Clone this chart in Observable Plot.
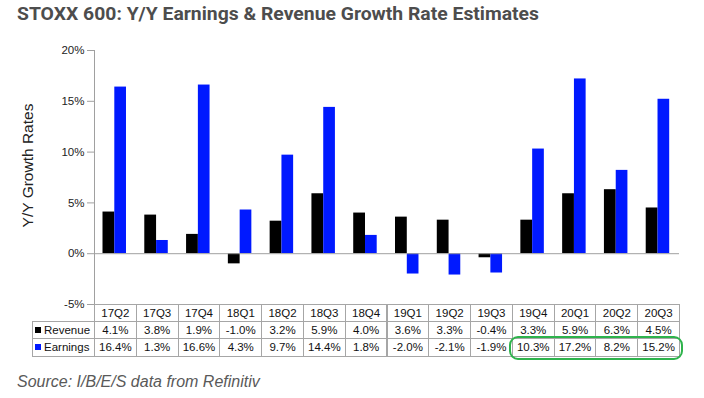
<!DOCTYPE html>
<html>
<head>
<meta charset="utf-8">
<script src="https://cdn.jsdelivr.net/npm/d3@7"></script>
<script src="https://cdn.jsdelivr.net/npm/@observablehq/plot@0.6"></script>
<style>
  html, body { margin: 0; padding: 0; background: #fff; }
  #wrap { position: relative; width: 704px; height: 398px; overflow: hidden; font-family: Arial, "Liberation Sans", sans-serif; }
  #title { position: absolute; left: 17px; top: 4px; font-family: Roboto, "Liberation Sans", sans-serif; font-weight: 700; font-size: 19px; line-height: 19px; color: #4d4d4d; white-space: nowrap; transform-origin: 0 0; }
  #source { position: absolute; left: 17px; top: 373px; font-family: Arial, "Liberation Sans", sans-serif; font-style: italic; font-size: 16px; line-height: 18px; color: #595959; white-space: nowrap; }
  #chart { position: absolute; left: 0; top: 0; }
  .cell { position: absolute; box-sizing: border-box; border: 1px solid #a6a6a6; font-size: 11.5px; color: #111; text-align: center; white-space: nowrap; display: flex; align-items: center; justify-content: center; background: transparent; }
  .lab { justify-content: flex-start; padding-left: 2px; }
  .sq { display: inline-block; width: 6px; height: 6px; margin-right: 3px; }
  #hl { position: absolute; box-sizing: border-box; border: 2.5px solid #2eb34c; border-radius: 9px; }
</style>
</head>
<body>
<div id="wrap">
  <div id="chart"></div>
  <div id="title">STOXX 600: Y/Y Earnings &amp; Revenue Growth Rate Estimates</div>
  <div id="source">Source: I/B/E/S data from Refinitiv</div>
</div>
<script>
const quarters = ["17Q2","17Q3","17Q4","18Q1","18Q2","18Q3","18Q4","19Q1","19Q2","19Q3","19Q4","20Q1","20Q2","20Q3"];
const revenue  = [4.1, 3.8, 1.9, -1.0, 3.2, 5.9, 4.0, 3.6, 3.3, -0.4, 3.3, 5.9, 6.3, 4.5];
const earnings = [16.4, 1.3, 16.6, 4.3, 9.7, 14.4, 1.8, -2.0, -2.1, -1.9, 10.3, 17.2, 8.2, 15.2];
const yTicks = [-5, 0, 5, 10, 15, 20];
const seriesNames = ["Revenue", "Earnings"];
const seriesColors = ["#000000", "#0019ff"];
const highlighted = ["19Q4", "20Q1", "20Q2", "20Q3"];
const yLabel = "Y/Y Growth Rates";

const rows = quarters.map((q, i) => ({q, revenue: revenue[i], earnings: earnings[i]}));
const fmt = v => v.toFixed(1) + "%";

const plot = Plot.plot({
  width: 704,
  height: 398,
  marginTop: 50,
  marginBottom: 94,
  marginLeft: 94,
  marginRight: 25,
  style: {fontFamily: "Arial, 'Liberation Sans', sans-serif", background: "transparent"},
  x: {domain: quarters, padding: 0, round: false, axis: null},
  y: {domain: [-5, 20], axis: null},
  marks: [
    Plot.axisY({ticks: yTicks, tickFormat: d => d + "%", tickSize: 7, tickPadding: 3, fontSize: 11.5, stroke: "#a0a0a0", fill: "#222", label: null}),
    Plot.frame({anchor: "left", stroke: "#a0a0a0"}),
    Plot.barY(rows, {x: "q", y: "revenue", fill: seriesColors[0], insetLeft: 8.5, insetRight: 21.5}),
    Plot.barY(rows, {x: "q", y: "earnings", fill: seriesColors[1], insetLeft: 20.3, insetRight: 9.8}),
    Plot.ruleY([0], {stroke: "#a0a0a0"}),
    Plot.text([yLabel], {frameAnchor: "left", textAnchor: "middle", lineAnchor: "middle", rotate: -90, dx: -66, dy: -12, fontSize: 15.5, fill: "#222"})
  ]
});
document.getElementById("chart").appendChild(plot);

// table drawn from the plot's own x scale
const xs = plot.scale("x");
const ys = plot.scale("y");
const bw = xs.bandwidth;
const tableTop = ys.apply(-5);
const rowOff = [0, 16.5, 34, 51.5];
const labelW = 62;
const wrap = document.getElementById("wrap");
function cell(left, top, w, h, html, cls) {
  const d = document.createElement("div");
  d.className = "cell" + (cls ? " " + cls : "");
  d.style.left = left + "px";
  d.style.top = top + "px";
  d.style.width = (w + 1) + "px";
  d.style.height = (h + 1) + "px";
  d.innerHTML = html;
  wrap.appendChild(d);
}
const x0 = xs.apply(quarters[0]);
seriesNames.forEach((name, r) => {
  const t = tableTop + rowOff[r + 1];
  cell(x0 - labelW, t, labelW, rowOff[r + 2] - rowOff[r + 1], `<span class="sq" style="background:${seriesColors[r]}"></span>${name}`, "lab");
});
quarters.forEach((q, i) => {
  const l = xs.apply(q);
  cell(l, tableTop + rowOff[0], bw, rowOff[1] - rowOff[0], q);
  cell(l, tableTop + rowOff[1], bw, rowOff[2] - rowOff[1], fmt(revenue[i]));
  cell(l, tableTop + rowOff[2], bw, rowOff[3] - rowOff[2], fmt(earnings[i]));
});
const hlLeft = xs.apply(highlighted[0]) - 3;
const hlRight = xs.apply(highlighted[highlighted.length - 1]) + bw + 4;
const hl = document.createElement("div");
hl.id = "hl";
hl.style.left = hlLeft + "px";
hl.style.top = (tableTop + rowOff[2] - 2) + "px";
hl.style.width = (hlRight - hlLeft) + "px";
hl.style.height = (rowOff[3] - rowOff[2] + 6) + "px";
wrap.appendChild(hl);

const title = document.getElementById("title");
const tw = title.getBoundingClientRect().width;
title.style.transform = `scaleX(${522 / tw})`;
</script>
</body>
</html>
